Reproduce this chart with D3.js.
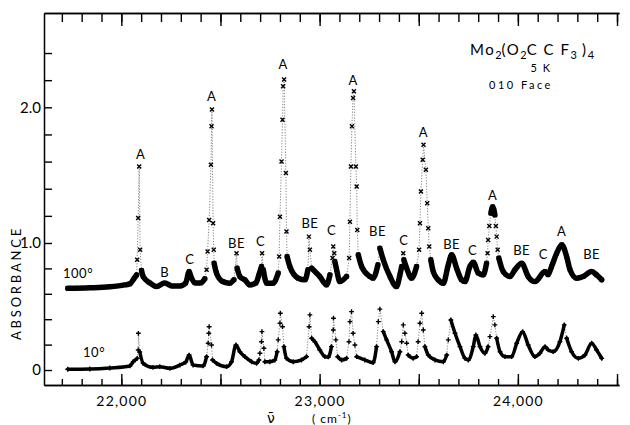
<!DOCTYPE html>
<html>
<head>
<meta charset="utf-8">
<script src="https://cdn.jsdelivr.net/npm/d3@7"></script>
<style>
  html, body { margin: 0; padding: 0; background: #fff; }
  svg { display: block; }
  text { font-family: Lato, "Open Sans", Roboto, sans-serif; font-weight: 400; fill: #000; }
</style>
</head>
<body>
<svg id="chart" width="630" height="425"></svg>
<script>
// Polarized absorption spectrum, [wavenumber (cm^-1), absorbance]
const spectrum100 = [
  [21730,0.643],[21841,0.647],[21942,0.655],[22018,0.670],[22043,0.678],[22063,0.718],[22077,0.749],
  [22080,0.868],[22085,1.185],[22090,1.564],[22095,0.946],[22102,0.783],[22110,0.736],[22144,0.686],
  [22178,0.657],[22219,0.686],[22255,0.662],[22295,0.662],[22325,0.686],[22342,0.775],[22351,0.736],
  [22371,0.686],[22401,0.686],[22421,0.718],[22430,0.789],[22435,0.933],[22443,1.170],[22452,1.576],
  [22455,1.860],[22457,1.983],[22463,1.146],[22466,0.946],[22468,0.841],[22480,0.763],[22512,0.696],
  [22547,0.684],[22568,0.710],[22581,0.920],[22584,0.802],[22598,0.736],[22623,0.710],[22648,0.670],
  [22679,0.686],[22694,0.749],[22707,0.815],[22710,0.920],[22716,0.789],[22733,0.684],[22766,0.684],
  [22791,0.763],[22796,0.893],[22800,1.194],[22808,1.601],[22813,1.909],[22816,2.155],[22821,2.205],
  [22830,1.515],[22833,1.084],[22836,0.893],[22850,0.815],[22892,0.723],[22926,0.710],[22941,0.789],
  [22946,1.047],[22951,0.946],[22960,0.802],[23001,0.736],[23035,0.670],[23052,0.749],[23065,0.881],
  [23069,0.972],[23074,0.920],[23077,0.854],[23086,0.789],[23102,0.696],[23136,0.736],[23149,0.881],
  [23153,1.157],[23158,1.564],[23163,1.860],[23169,2.069],[23173,2.118],[23183,1.564],[23187,1.416],
  [23190,1.096],[23195,0.907],[23212,0.815],[23254,0.736],[23270,0.723],[23294,0.828],[23304,0.959],
  [23321,0.868],[23355,0.736],[23388,0.657],[23405,0.749],[23414,0.815],[23422,0.920],[23425,0.868],
  [23439,0.802],[23464,0.723],[23489,0.815],[23502,0.946],[23506,1.146],[23511,1.379],[23520,1.613],
  [23524,1.724],[23536,1.540],[23543,1.293],[23548,1.109],[23553,0.972],[23561,0.868],[23573,0.775],
  [23598,0.710],[23624,0.684],[23649,0.828],[23666,0.907],[23691,0.802],[23716,0.710],[23733,0.696],
  [23758,0.815],[23775,0.849],[23800,0.763],[23825,0.749],[23842,0.841],[23847,0.920],[23850,1.022],
  [23856,1.125],[23864,1.220],[23873,1.268],[23884,1.207],[23889,1.125],[23893,1.047],[23898,0.946],
  [23904,0.881],[23926,0.775],[23960,0.736],[23985,0.789],[24019,0.841],[24052,0.736],[24086,0.696],
  [24137,0.775],[24152,0.750],[24170,0.815],[24196,0.920],[24221,0.986],[24246,0.893],[24263,0.789],
  [24296,0.723],[24330,0.736],[24372,0.775],[24397,0.749],[24423,0.710]
];

const spectrum10 = [
  [21730,0.006],[21841,0.008],[21942,0.016],[22043,0.032],[22060,0.065],[22080,0.092],[22085,0.158],
  [22086,0.289],[22093,0.142],[22110,0.053],[22160,0.021],[22194,0.026],[22245,0.013],[22295,0.039],
  [22325,0.063],[22342,0.118],[22362,0.039],[22413,0.032],[22430,0.105],[22438,0.211],[22441,0.289],
  [22443,0.341],[22455,0.197],[22460,0.079],[22480,0.053],[22531,0.026],[22556,0.065],[22578,0.197],
  [22598,0.144],[22623,0.105],[22657,0.065],[22682,0.053],[22694,0.079],[22699,0.132],[22707,0.223],
  [22709,0.302],[22719,0.171],[22724,0.065],[22749,0.065],[22774,0.079],[22786,0.144],[22791,0.237],
  [22800,0.368],[22802,0.447],[22813,0.341],[22820,0.184],[22833,0.092],[22867,0.065],[22909,0.079],
  [22934,0.105],[22947,0.341],[22951,0.434],[22960,0.250],[22976,0.223],[23001,0.158],[23027,0.105],
  [23044,0.103],[23060,0.184],[23069,0.315],[23070,0.408],[23082,0.237],[23091,0.105],[23111,0.079],
  [23136,0.092],[23148,0.223],[23153,0.381],[23161,0.460],[23169,0.289],[23178,0.197],[23187,0.105],
  [23228,0.079],[23270,0.058],[23287,0.184],[23296,0.381],[23304,0.479],[23321,0.302],[23338,0.237],
  [23363,0.144],[23380,0.065],[23405,0.144],[23414,0.223],[23422,0.355],[23430,0.289],[23439,0.211],
  [23447,0.118],[23472,0.092],[23489,0.105],[23497,0.223],[23506,0.368],[23515,0.447],[23523,0.315],
  [23531,0.184],[23548,0.118],[23582,0.079],[23624,0.065],[23641,0.118],[23649,0.237],[23662,0.394],
  [23683,0.289],[23708,0.184],[23733,0.092],[23750,0.079],[23775,0.184],[23788,0.276],[23809,0.184],
  [23834,0.132],[23850,0.184],[23859,0.263],[23876,0.420],[23884,0.355],[23893,0.250],[23910,0.144],
  [23935,0.105],[23969,0.105],[23994,0.211],[24024,0.302],[24052,0.197],[24086,0.105],[24111,0.132],
  [24137,0.184],[24153,0.158],[24178,0.144],[24212,0.223],[24234,0.355],[24246,0.250],[24271,0.144],
  [24305,0.092],[24338,0.118],[24372,0.211],[24397,0.158],[24423,0.092]
];

// Band assignments: name, wavenumber, absorbance where the letter sits
const bandNames = ["A","B","C","A","BE","C","A","BE","C","A","BE","C","A","BE","C","A","BE","C","A","BE"];
const bandWn    = [22098,22219,22346,22455,22581,22702,22816,22951,23060,23169,23292,23425,23523,23666,23772,23873,24019,24128,24221,24372];
const bandAbs   = [1.650,0.773,0.868,2.079,0.998,1.010,2.316,1.146,1.096,2.197,1.089,1.022,1.813,0.986,0.946,1.355,0.946,0.907,1.084,0.907];

// Polarization angle labels
const angleNames = ["100°", "10°"];
const angleWn    = [21706, 21807];
const angleAbs   = [0.765, 0.142];

const xLabelTicks = [22000, 23000, 24000];
const yLabelTicks = [0, 1, 2];
const yTickLabels = ["0", "1.0", "2.0"];

const svg = d3.select("#chart");

const x = d3.scaleLinear().domain([21610, 24510]).range([44, 619]);
const y = d3.scaleLinear().domain([-0.118, 1, 2.695]).range([385, 243, 13]);

const minorX = d3.range(21700, 24501, 100);
const majorX = minorX.filter(v => v % 500 === 0);
const minorY = d3.range(0, 2.41, 0.2).map(v => +v.toFixed(1));

function styleAxis(g) {
  g.selectAll("path.domain").attr("stroke", "#000").attr("stroke-width", 1.5);
  g.selectAll(".tick line").attr("stroke", "#000").attr("stroke-width", 1.4);
  g.selectAll(".tick text").style("font-family", "Lato, 'Open Sans', sans-serif")
    .style("font-weight", 400).attr("fill", "#000");
}

// bottom axis: inward ticks every 100 cm-1, longer every 500
svg.append("g").attr("transform", `translate(0,${y.range()[0]})`)
  .call(d3.axisBottom(x).tickValues(minorX).tickSize(-6).tickSizeOuter(0).tickFormat(""))
  .call(styleAxis);
svg.append("g").attr("transform", `translate(0,${y.range()[0]})`)
  .call(d3.axisBottom(x).tickValues(majorX).tickSize(-11).tickSizeOuter(0).tickPadding(11)
        .tickFormat(v => xLabelTicks.includes(v) ? d3.format(",")(v) : ""))
  .call(styleAxis)
  .call(g => g.selectAll(".tick text").attr("font-size", 14).attr("letter-spacing", 1.2));

// top axis
svg.append("g").attr("transform", `translate(0,${y.range()[2]})`)
  .call(d3.axisTop(x).tickValues(minorX).tickSize(-9).tickSizeOuter(0).tickFormat(""))
  .call(styleAxis);
svg.append("g").attr("transform", `translate(0,${y.range()[2]})`)
  .call(d3.axisTop(x).tickValues(majorX).tickSize(-13).tickSizeOuter(0).tickFormat(""))
  .call(styleAxis);

// left axis
svg.append("g").attr("transform", `translate(${x.range()[0]},0)`)
  .call(d3.axisLeft(y).tickValues(minorY).tickSize(-8).tickSizeOuter(0).tickPadding(3)
        .tickFormat(v => { const k = yLabelTicks.indexOf(v); return k >= 0 ? yTickLabels[k] : ""; }))
  .call(styleAxis)
  .call(g => g.selectAll(".tick text").attr("font-size", 15));

// spectra: dotted joins where the trace is steep, dense band elsewhere, one marker per reading
function drawTrace(data, bandWidth, marker) {
  const g = svg.append("g");
  const pts = data.map(d => [x(d[0]), y(d[1])]);
  g.append("path").attr("d", d3.line()(pts))
    .attr("fill", "none").attr("stroke", "#666").attr("stroke-width", 0.8)
    .attr("stroke-dasharray", "1.2,1.6");
  const groups = [];
  let cur = [pts[0]];
  for (let i = 1; i < pts.length; i++) {
    const dx = Math.abs(pts[i][0] - pts[i - 1][0]);
    const dy = Math.abs(pts[i][1] - pts[i - 1][1]);
    if (dy <= 5 * dx) cur.push(pts[i]);
    else { if (cur.length > 1) groups.push(cur); cur = [pts[i]]; }
  }
  if (cur.length > 1) groups.push(cur);
  g.selectAll("path.band").data(groups).join("path").attr("class", "band")
    .attr("d", d3.line().curve(d3.curveMonotoneX))
    .attr("fill", "none").attr("stroke", "#000").attr("stroke-width", bandWidth)
    .attr("stroke-linejoin", "round").attr("stroke-linecap", "round");
  const m = marker === "x" ? "M-2,-2L2,2M-2,2L2,-2" : "M-2.4,0H2.4M0,-2.4V2.4";
  g.selectAll("path.mk").data(pts).join("path").attr("class", "mk")
    .attr("transform", d => `translate(${d[0]},${d[1]})`)
    .attr("d", m).attr("fill", "none").attr("stroke", "#000").attr("stroke-width", 1.4);
}
drawTrace(spectrum100, 5.5, "x");
drawTrace(spectrum10, 3.5, "+");

// band letters
svg.append("g").selectAll("text").data(bandNames).join("text")
  .attr("x", (d, i) => x(bandWn[i])).attr("y", (d, i) => y(bandAbs[i]))
  .attr("dy", "0.36em").attr("text-anchor", "middle")
  .attr("font-size", 13).attr("letter-spacing", 0.5).text(d => d);

// angle labels
svg.append("g").selectAll("text").data(angleNames).join("text")
  .attr("x", (d, i) => x(angleWn[i])).attr("y", (d, i) => y(angleAbs[i]))
  .attr("dy", "0.36em").attr("font-size", 13).attr("letter-spacing", 0.5).text(d => d);

// compound, temperature and crystal face
const title = svg.append("text").attr("x", 470).attr("y", 55).attr("font-size", 15);
[["Mo",0],["2",1],["(O",0],["2",1],["C C F",0],["3",1],[" )",0],["4",1]].forEach(([t, s], i, arr) => {
  const prevSub = i > 0 && arr[i - 1][1];
  title.append("tspan").text(t)
    .attr("font-size", s ? 11 : 15)
    .attr("dy", s && !prevSub ? 4 : (!s && prevSub ? -4 : 0))
    .attr("letter-spacing", s ? 0 : 1.5);
});
svg.append("text").attr("x", 541).attr("y", 72).attr("text-anchor", "middle")
  .attr("font-size", 11).attr("letter-spacing", 1.5).text("5 K");
svg.append("text").attr("x", 521).attr("y", 89).attr("text-anchor", "middle")
  .attr("font-size", 11).attr("letter-spacing", 2.5).text("010 Face");

// axis titles
svg.append("text").attr("transform", "translate(21,283) rotate(-90)")
  .attr("text-anchor", "middle").attr("font-size", 13).attr("letter-spacing", 2.8)
  .text("ABSORBANCE");
svg.append("text").attr("x", 271).attr("y", 423).attr("text-anchor", "middle")
  .attr("font-size", 14).style("font-family", "'DejaVu Sans', sans-serif")
  .text("ν\u0304");
const unit = svg.append("text").attr("x", 312).attr("y", 423).attr("font-size", 12)
  .attr("letter-spacing", 1);
unit.append("tspan").text("( cm");
unit.append("tspan").text("-1").attr("font-size", 8).attr("dy", -5);
unit.append("tspan").text(")").attr("dy", 5);
</script>
</body>
</html>
